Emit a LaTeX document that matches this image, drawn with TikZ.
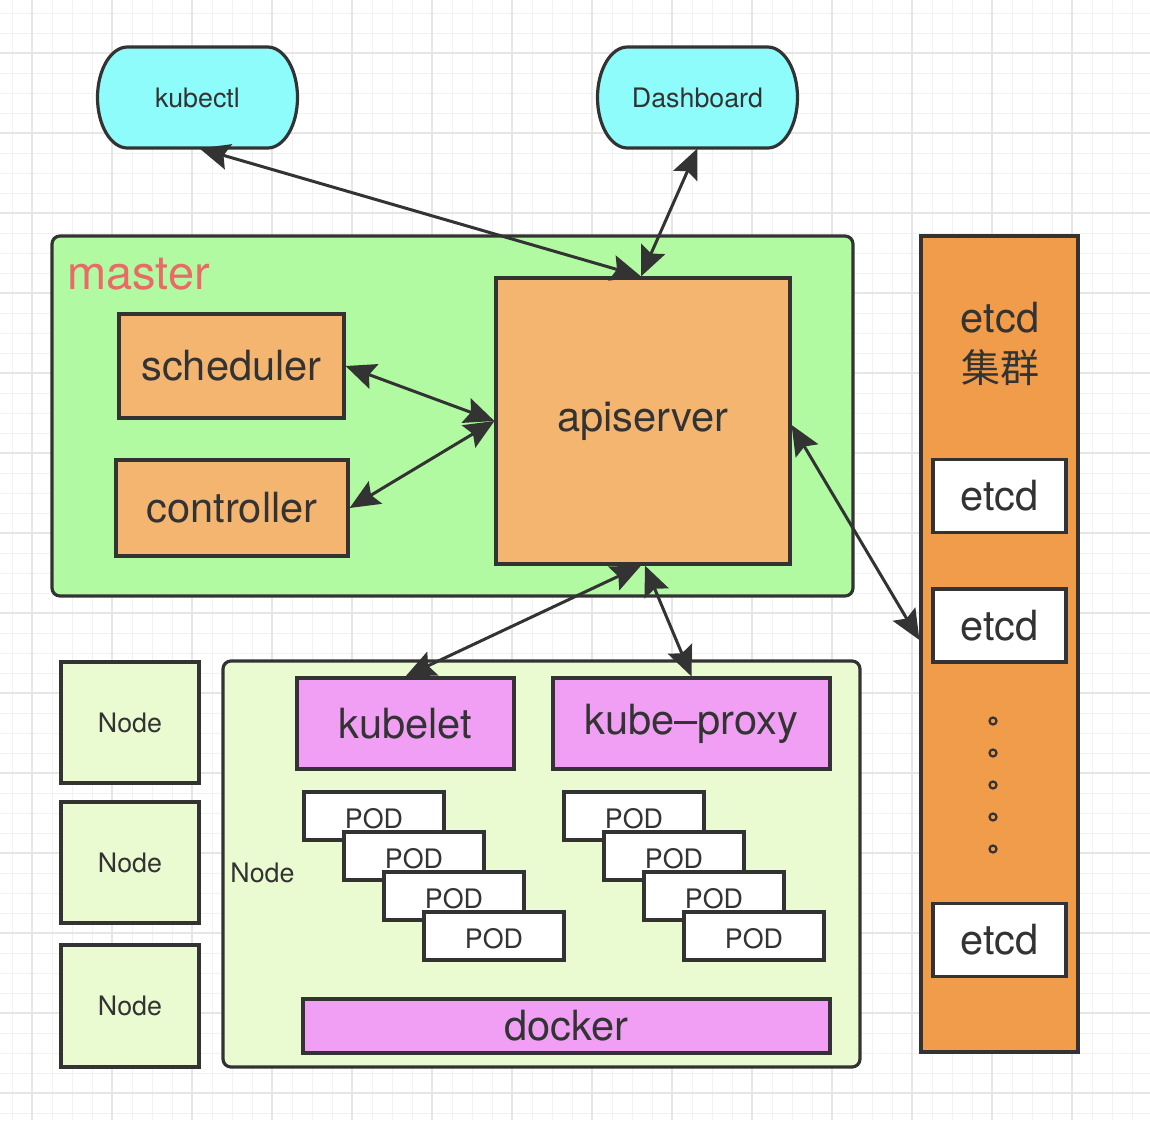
\documentclass[tikz,border=0pt]{standalone}
\usepackage{fontspec}
\setmainfont{TeX Gyre Heros}
\newfontfamily\cjkfont{Noto Sans CJK SC}
\usetikzlibrary{arrows.meta}
\definecolor{ink}{HTML}{333333}
\definecolor{gridminor}{HTML}{F2F2F2}
\definecolor{gridmajor}{HTML}{E6E6E6}
\definecolor{clientfill}{HTML}{8FFCFC}
\definecolor{masterfill}{HTML}{B1FAA2}
\definecolor{compfill}{HTML}{F4B571}
\definecolor{etcdfill}{HTML}{F19C4A}
\definecolor{nodefill}{HTML}{EBFBD1}
\definecolor{agentfill}{HTML}{F09FF4}
\definecolor{mastertext}{HTML}{EA6B66}
\begin{document}
\begin{tikzpicture}[x=0.5pt,y=-0.5pt,
  box node/.style={rectangle,draw=ink,line width=1.6pt,text=ink,inner sep=0pt},
  big text/.style={font=\fontsize{20.8}{25}\selectfont},
  small text/.style={font=\fontsize{13.4}{16}\selectfont},
  pod node/.style={box node,fill=white,small text,minimum width=70pt,minimum height=24pt,text height=12.6pt,text depth=0pt},
  etcd node/.style={box node,fill=white,big text,minimum width=66.5pt,minimum height=36.5pt},
  worker node/.style={box node,fill=nodefill,small text,minimum width=69pt,minimum height=60.5pt},
  link/.style={draw=ink,line width=1.5pt,{Stealth[length=15pt,width=13pt,inset=2.5pt]}-{Stealth[length=15pt,width=13pt,inset=2.5pt]}},
  minor line/.style={draw=gridminor,line width=0.5pt},
  major line/.style={draw=gridmajor,line width=0.8pt}]%
  \useasboundingbox[fill=white] (0,0) rectangle (1150,1120);
  \foreach \gx in {12,32,...,1152} \draw[minor line] (\gx,0) -- (\gx,1120);
  \foreach \gy in {13,33,...,1113} \draw[minor line] (0,\gy) -- (1150,\gy);
  \foreach \gx in {32,112,...,1112} \draw[major line] (\gx,0) -- (\gx,1120);
  \foreach \gy in {53,133,...,1093} \draw[major line] (0,\gy) -- (1150,\gy);

  \foreach \cx in {197.5,697.5}
  \filldraw[fill=clientfill,draw=ink,line width=1.6pt] (\cx-30,47) -- (\cx+70,47)
    arc[start angle=-90,end angle=90,x radius=30,y radius=50.5] -- (\cx-70,148)
    arc[start angle=90,end angle=270,x radius=30,y radius=50.5] -- cycle;
  \node[small text,text=ink,minimum width=100.5pt,minimum height=50.5pt] (kubectl) at (197.5,97.5) {kubectl};
  \node[small text,text=ink,minimum width=100.5pt,minimum height=50.5pt] (dashboard) at (697.5,97.5) {Dashboard};

  \node[box node,fill=masterfill,rounded corners=4pt,minimum width=400.5pt,minimum height=180pt] (master) at (452.5,416) {};
  \node[anchor=base west,inner sep=0pt,text=mastertext,font=\fontsize{23.5}{28}\selectfont] (mastername) at (67,289) {master};
  \node[box node,fill=compfill,big text,minimum width=112.5pt,minimum height=52pt] (scheduler) at (231.5,366) {scheduler};
  \node[box node,fill=compfill,big text,minimum width=116pt,minimum height=48pt] (controller) at (232,508) {controller};
  \node[box node,fill=compfill,big text,minimum width=147pt,minimum height=143pt] (apiserver) at (643,421) {apiserver};

  \node[box node,fill=etcdfill,minimum width=78.5pt,minimum height=408pt] (etcdc) at (999.5,644) {};
  \node[text=ink,align=center,big text,inner sep=0pt] (etcdname) at (1000,344) {etcd\\[0pt]{\cjkfont\fontsize{19.5}{24}\selectfont 集群}};
  \node[etcd node] (etcd1) at (999.5,496) {etcd};
  \node[etcd node] (etcd2) at (999.5,625.5) {etcd};
  \node[etcd node] (etcd3) at (999.5,940) {etcd};
  \foreach \dy in {721,753,...,849}
  \filldraw[fill=etcdfill,draw=ink,line width=1.1pt] (993,\dy) circle [radius=1.75pt];

  \node[worker node] (node1) at (130,722.5) {Node};
  \node[worker node] (node2) at (130,862.5) {Node};
  \node[worker node,minimum height=61pt] (node3) at (130,1006) {Node};
  \node[box node,fill=nodefill,rounded corners=4pt,minimum width=318.5pt,minimum height=203pt] (worker) at (541.5,864) {};
  \node[anchor=west,inner sep=0pt,text=ink,small text] (workername) at (230,873) {Node};
  \node[box node,fill=agentfill,big text,minimum width=108.5pt,minimum height=45.5pt] (kubelet) at (405.5,723.5) {kubelet};
  \node[box node,fill=agentfill,big text,minimum width=138.5pt,minimum height=45.5pt] (proxy) at (691.5,723.5) {kube–proxy};
  \foreach \gx/\grp in {0/a,260/b}
  \foreach \k in {0,...,3}
  \node[pod node] (pod\grp\k) at (374+\gx+40*\k,816+40*\k) {POD};
  \node[box node,fill=agentfill,big text,minimum width=263.5pt,minimum height=27pt] (docker) at (566.5,1026) {docker};

  \draw[link] ([xshift=1pt]kubectl.south) -- ([xshift=-1pt]apiserver.north);
  \draw[link] (dashboard.south) -- ([xshift=-1pt]apiserver.north);
  \draw[link] (scheduler.east) -- (apiserver.west);
  \draw[link] (controller.east) -- (apiserver.west);
  \draw[link] ([xshift=-1pt]apiserver.south) -- (kubelet.north);
  \draw[link] ([xshift=1pt]apiserver.south) -- (proxy.north);
  \draw[link] ([yshift=-2pt]apiserver.east) -- ([yshift=2pt]etcdc.west);
\end{tikzpicture}
\end{document}
